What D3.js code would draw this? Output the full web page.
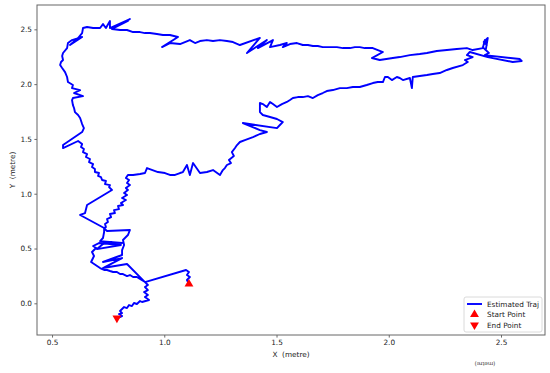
<!DOCTYPE html>
<html><head><meta charset="utf-8">
<script src="https://cdn.jsdelivr.net/npm/d3@7"></script>
<style>body{margin:0;background:#fff;} svg{display:block;font-family:"DejaVu Sans",sans-serif;}</style>
</head><body><svg id="c" width="550" height="373"></svg>
<script>
const xTicks = [0.5, 1.0, 1.5, 2.0, 2.5];
const yTicks = [0.0, 0.5, 1.0, 1.5, 2.0, 2.5];
const xDomain = [0.433, 2.696];
const yDomain = [-0.289, 2.722];
const xLabel = "X  (metre)";
const yLabel = "Y  (metre)";
const strayLabel = "(metre)";
const legendLabels = ["Estimated Traj", "Start Point", "End Point"];
const startPoint = [1.110, 0.176];
const endPoint = [0.789, -0.134];
const trajectory = [
[1.110,0.176],[1.101,0.213],[1.114,0.240],[1.101,0.258],[1.110,0.286],[1.097,0.304],
[0.914,0.194],[0.892,0.222],[0.878,0.240],[0.861,0.240],[0.847,0.258],[0.834,0.249],
[0.816,0.267],[0.803,0.267],[0.789,0.286],[0.772,0.286],[0.758,0.295],[0.745,0.304],
[0.732,0.304],[0.714,0.322],[0.674,0.377],[0.687,0.432],[0.678,0.468],[0.696,0.505],
[0.683,0.523],[0.709,0.550],[0.807,0.532],[0.700,0.495],[0.727,0.541],[0.758,0.559],
[0.812,0.550],[0.714,0.568],[0.727,0.596],[0.732,0.651],[0.732,0.687],[0.625,0.806],
[0.647,0.824],[0.656,0.897],[0.767,1.034],[0.754,1.061],[0.758,1.079],[0.736,1.088],
[0.740,1.116],[0.723,1.125],[0.718,1.152],[0.705,1.162],[0.709,1.189],[0.691,1.198],
[0.691,1.225],[0.678,1.244],[0.683,1.271],[0.665,1.289],[0.669,1.317],[0.651,1.335],
[0.656,1.362],[0.638,1.380],[0.642,1.408],[0.629,1.426],[0.634,1.453],[0.616,1.481],
[0.549,1.417],[0.549,1.444],[0.634,1.563],[0.642,1.599],[0.634,1.636],
[0.625,1.691],[0.616,1.718],[0.602,1.745],[0.598,1.782],[0.593,1.809],[0.589,1.855],
[0.593,1.873],[0.638,1.891],[0.598,1.919],[0.625,1.946],[0.589,1.964],[0.593,1.992],
[0.571,2.019],[0.567,2.065],[0.558,2.110],[0.545,2.147],[0.536,2.174],[0.540,2.202],
[0.549,2.220],[0.545,2.256],[0.549,2.284],[0.567,2.329],[0.571,2.375],[0.589,2.402],
[0.634,2.430],[0.580,2.357],[0.616,2.421],[0.634,2.466],[0.638,2.512],[0.656,2.521],
[0.683,2.512],[0.714,2.512],[0.727,2.548],[0.740,2.512],[0.758,2.576],[0.758,2.512],
[0.847,2.594],[0.772,2.512],[0.838,2.576],[0.767,2.503],[0.803,2.494],[0.834,2.494],
[0.861,2.475],[0.892,2.475],[0.914,2.466],[0.936,2.466],[0.967,2.457],[0.994,2.448],
[1.025,2.448],[1.061,2.430],[0.990,2.338],[1.025,2.375],[1.070,2.366],[1.114,2.402],
[1.137,2.375],[1.159,2.393],[1.190,2.402],[1.217,2.393],[1.248,2.402],[1.279,2.393],
[1.306,2.384],[1.337,2.357],[1.426,2.421],[1.368,2.284],[1.457,2.402],[1.417,2.329],
[1.484,2.402],[1.471,2.338],[1.515,2.357],[1.546,2.375],[1.528,2.338],[1.560,2.366],
[1.591,2.375],[1.617,2.357],[1.640,2.357],[1.662,2.348],[1.684,2.348],[1.706,2.338],
[1.738,2.338],[1.769,2.338],[1.796,2.329],[1.827,2.329],[1.849,2.338],[1.871,2.338],
[1.893,2.329],[1.929,2.329],[1.974,2.293],[1.925,2.238],[1.960,2.220],[2.018,2.238],
[2.049,2.247],[2.094,2.265],[2.138,2.275],[2.170,2.284],[2.214,2.302],[2.259,2.311],
[2.303,2.320],[2.348,2.329],[2.374,2.311],[2.419,2.329],[2.428,2.402],[2.437,2.357],
[2.423,2.384],[2.441,2.421],[2.432,2.311],[2.419,2.338],[2.446,2.284],[2.428,2.265],
[2.584,2.229],[2.592,2.211],[2.552,2.202],[2.441,2.247],[2.361,2.293],[2.348,2.265],
[2.374,2.247],[2.339,2.220],[2.352,2.202],[2.330,2.174],[2.285,2.147],[2.259,2.129],
[2.227,2.101],[2.196,2.092],[2.170,2.083],[2.138,2.074],[2.107,2.065],[2.103,1.964],
[2.094,2.056],[2.063,2.037],[2.049,2.056],[2.036,2.065],[2.014,2.037],[1.996,2.065],
[1.983,2.065],[1.974,2.019],[1.951,2.019],[1.929,2.010],[1.902,1.992],[1.871,1.974],
[1.840,1.974],[1.813,1.964],[1.782,1.964],[1.751,1.946],[1.724,1.937],[1.706,1.919],
[1.684,1.900],[1.662,1.873],[1.640,1.891],[1.617,1.882],[1.595,1.882],[1.573,1.873],
[1.560,1.855],[1.546,1.837],[1.524,1.818],[1.502,1.791],[1.484,1.818],[1.471,1.837],
[1.457,1.791],[1.439,1.818],[1.426,1.828],[1.426,1.745],[1.439,1.718],[1.471,1.700],
[1.502,1.682],[1.528,1.654],[1.515,1.627],[1.502,1.599],[1.350,1.645],[1.426,1.581],
[1.457,1.563],[1.426,1.545],[1.395,1.517],[1.359,1.490],[1.337,1.472],[1.324,1.444],
[1.315,1.417],[1.301,1.380],[1.310,1.344],[1.288,1.307],[1.297,1.280],[1.279,1.262],
[1.270,1.234],[1.261,1.216],[1.248,1.171],[1.217,1.216],[1.190,1.198],[1.159,1.189],
[1.128,1.280],[1.114,1.171],[1.101,1.262],[1.083,1.198],[1.070,1.189],[1.048,1.171],
[1.025,1.171],[1.003,1.189],[0.972,1.198],[0.923,1.234],[0.914,1.189],[0.892,1.180],
[0.861,1.171],[0.838,1.171],[0.829,1.143],[0.843,1.125],[0.834,1.098],[0.847,1.079],
[0.829,1.052],[0.838,1.034],[0.821,1.006],[0.834,0.988],[0.812,0.961],[0.829,0.943],
[0.807,0.915],[0.816,0.897],[0.794,0.888],[0.798,0.860],[0.776,0.851],[0.780,0.824],
[0.758,0.815],[0.763,0.787],[0.745,0.769],[0.749,0.742],[0.736,0.724],[0.740,0.696],
[0.732,0.687],[0.740,0.669],[0.745,0.660],[0.847,0.669],
[0.838,0.623],[0.816,0.578],[0.821,0.532],[0.812,0.486],[0.812,0.441],[0.727,0.377],
[0.812,0.413],[0.727,0.322],[0.834,0.359],[0.914,0.194],[0.927,0.167],[0.914,0.149],
[0.927,0.121],[0.910,0.103],[0.927,0.076],[0.914,0.057],[0.932,0.030],[0.901,0.012],
[0.892,0.021],[0.878,-0.006],[0.865,0.003],[0.856,-0.025],[0.843,-0.016],[0.834,-0.043],
[0.821,-0.034],[0.812,-0.052],[0.803,-0.070],[0.812,-0.089],[0.798,-0.098],[0.812,-0.116],
[0.794,-0.134]
];

const W = 550, H = 373;
const area = {l: 37, r: 545, t: 5, b: 335};
const svg = d3.select("#c");
const x = d3.scaleLinear().domain(xDomain).range([area.l, area.r]);
const y = d3.scaleLinear().domain(yDomain).range([area.b, area.t]);
const fs = 7.3;

svg.append("rect").attr("width", W).attr("height", H).attr("fill", "#fff");

// trajectory
const line = d3.line().x(d => x(d[0])).y(d => y(d[1]));
svg.append("path").datum(trajectory).attr("d", line)
  .attr("fill", "none").attr("stroke", "#0000ff").attr("stroke-width", 1.9)
  .attr("stroke-linejoin", "round").attr("stroke-linecap", "round");

// markers
const tri = d3.symbol().type(d3.symbolTriangle).size(34);
svg.append("path").attr("d", tri()).attr("fill", "#ff0000")
  .attr("transform", `translate(${x(startPoint[0])},${y(startPoint[1])})`);
svg.append("path").attr("d", tri()).attr("fill", "#ff0000")
  .attr("transform", `translate(${x(endPoint[0])},${y(endPoint[1])}) rotate(180)`);

// axes
function styleAxis(g) {
  g.select(".domain").remove();
  g.selectAll(".tick line").attr("stroke", "#444").attr("stroke-width", 0.8);
  g.selectAll(".tick text").attr("fill", "#222").attr("font-size", fs)
    .attr("font-family", "DejaVu Sans, sans-serif");
}
svg.append("g").attr("transform", `translate(0,${area.b})`)
  .call(d3.axisBottom(x).tickValues(xTicks).tickFormat(d3.format(".1f")).tickSize(2.6).tickPadding(2.4))
  .call(styleAxis);
svg.append("g").attr("transform", `translate(${area.l},0)`)
  .call(d3.axisLeft(y).tickValues(yTicks).tickFormat(d3.format(".1f")).tickSize(2.6).tickPadding(2.4))
  .call(styleAxis);

// frame
svg.append("rect").attr("x", area.l).attr("y", area.t)
  .attr("width", area.r - area.l).attr("height", area.b - area.t)
  .attr("fill", "none").attr("stroke", "#666").attr("stroke-width", 1);

// axis labels
svg.append("text").attr("x", (area.l + area.r) / 2).attr("y", 356.5)
  .attr("text-anchor", "middle").attr("font-size", fs).attr("fill", "#222")
  .style("white-space", "pre").text(xLabel);
svg.append("text").attr("transform", `translate(15,${(area.t + area.b) / 2}) rotate(-90)`)
  .attr("text-anchor", "middle").attr("font-size", fs).attr("fill", "#222")
  .style("white-space", "pre").text(yLabel);
svg.append("text").attr("transform", `translate(485,362) rotate(180)`)
  .attr("text-anchor", "middle").attr("font-size", 5.5).attr("fill", "#333")
  .text(strayLabel);

// legend
const lg = svg.append("g");
lg.append("rect").attr("x", 464).attr("y", 297).attr("width", 78).attr("height", 35)
  .attr("rx", 2).attr("fill", "#fff").attr("fill-opacity", 0.8)
  .attr("stroke", "#d0d0d0").attr("stroke-width", 0.8);
const rows = [304, 314.5, 325];
lg.append("line").attr("x1", 467).attr("x2", 482).attr("y1", rows[0]).attr("y2", rows[0])
  .attr("stroke", "#0000ff").attr("stroke-width", 1.9);
lg.append("path").attr("d", tri()).attr("fill", "#ff0000")
  .attr("transform", `translate(474.5,${rows[1]})`);
lg.append("path").attr("d", tri()).attr("fill", "#ff0000")
  .attr("transform", `translate(474.5,${rows[2]}) rotate(180)`);
legendLabels.forEach((t, i) => {
  lg.append("text").attr("x", 487).attr("y", rows[i]).attr("dy", "0.35em")
    .attr("font-size", fs).attr("fill", "#222").text(t);
});
</script></body></html>
